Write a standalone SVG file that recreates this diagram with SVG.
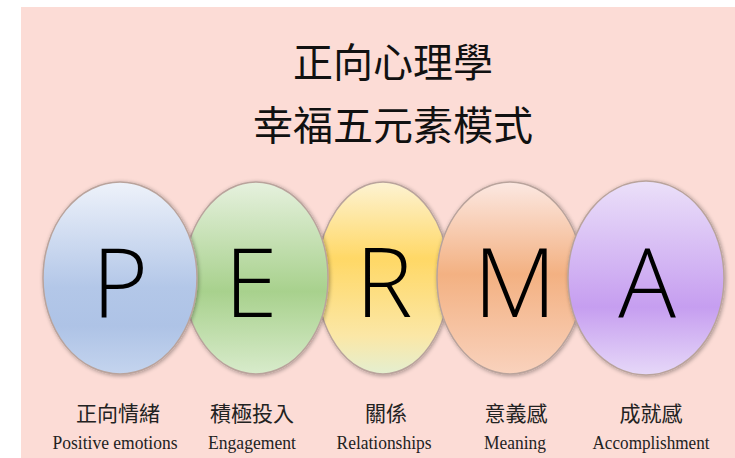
<svg xmlns="http://www.w3.org/2000/svg" width="735" height="458" viewBox="0 0 735 458">
<style>
.title{font-family:"Noto Sans CJK TC","Noto Sans CJK SC",sans-serif;font-size:40px;fill:#111;text-anchor:middle}
.letter{font-family:"Open Sans","Liberation Sans",sans-serif;font-size:96px;font-weight:300;fill:#000;text-anchor:middle}
.zh{font-family:"Noto Sans CJK TC","Noto Sans CJK SC",sans-serif;font-size:21px;fill:#222;text-anchor:middle}
.en{font-family:"Liberation Serif",serif;font-size:18px;fill:#222;text-anchor:middle}
.ell{stroke:#b9a39c;stroke-width:1.5;filter:url(#sh)}
</style>
<defs>
<filter id="sh" x="-10%" y="-10%" width="120%" height="120%">
<feGaussianBlur in="SourceAlpha" stdDeviation="2"/>
<feOffset dx="1" dy="1"/>
<feComponentTransfer><feFuncA type="linear" slope="0.35"/></feComponentTransfer>
<feMerge><feMergeNode/><feMergeNode in="SourceGraphic"/></feMerge>
</filter>
<linearGradient id="gP" x1="0" y1="0" x2="0" y2="1">
<stop offset="0" stop-color="#eef2fa"/><stop offset="0.55" stop-color="#b3c7e8"/><stop offset="0.75" stop-color="#aec3e6"/><stop offset="1" stop-color="#c4d4ee"/>
</linearGradient>
<linearGradient id="gE" x1="0" y1="0" x2="0" y2="1">
<stop offset="0" stop-color="#e6f1de"/><stop offset="0.57" stop-color="#a8d18d"/><stop offset="1" stop-color="#d8ebcb"/>
</linearGradient>
<linearGradient id="gR" x1="0" y1="0" x2="0" y2="1">
<stop offset="0" stop-color="#fdf3d3"/><stop offset="0.4" stop-color="#ffd866"/><stop offset="0.8" stop-color="#fbe7a6"/><stop offset="1" stop-color="#e4efd0"/>
</linearGradient>
<linearGradient id="gM" x1="0" y1="0" x2="0" y2="1">
<stop offset="0" stop-color="#fce8e2"/><stop offset="0.48" stop-color="#f3b182"/><stop offset="1" stop-color="#f9d2bd"/>
</linearGradient>
<linearGradient id="gA" x1="0" y1="0" x2="0" y2="1">
<stop offset="0" stop-color="#ebe0f9"/><stop offset="0.65" stop-color="#c69ef0"/><stop offset="1" stop-color="#e6d8f8"/>
</linearGradient>
</defs>
<rect x="0" y="0" width="735" height="458" fill="#ffffff"/>
<rect x="21" y="7" width="714" height="451" fill="#fcdcd6"/>
<g id="title">
<text class="title" x="393" y="77">正向心理學</text>
<text class="title" x="393" y="140">幸福五元素模式</text>
</g>
<g id="node-R">
<ellipse class="ell" cx="383" cy="278" rx="66" ry="96" fill="url(#gR)"/>
<text class="letter" x="384" y="317">R</text>
</g>
<g id="node-E">
<ellipse class="ell" cx="256" cy="278" rx="72" ry="96" fill="url(#gE)"/>
<text class="letter" x="251" y="317">E</text>
</g>
<g id="node-P">
<ellipse class="ell" cx="120" cy="278" rx="77" ry="96" fill="url(#gP)"/>
<text class="letter" x="120" y="317">P</text>
</g>
<g id="node-M">
<ellipse class="ell" cx="510" cy="278" rx="73" ry="96" fill="url(#gM)"/>
<text class="letter" x="515" y="317">M</text>
</g>
<g id="node-A">
<ellipse class="ell" cx="646" cy="278" rx="78" ry="97" fill="url(#gA)"/>
<text class="letter" x="647" y="317">A</text>
</g>
<g id="labels">
<text class="zh" x="118" y="421">正向情緒</text>
<text class="en" x="115" y="449" textLength="125" lengthAdjust="spacingAndGlyphs">Positive emotions</text>
<text class="zh" x="252" y="421">積極投入</text>
<text class="en" x="252" y="449" textLength="88" lengthAdjust="spacingAndGlyphs">Engagement</text>
<text class="zh" x="386" y="421">關係</text>
<text class="en" x="384" y="449" textLength="95" lengthAdjust="spacingAndGlyphs">Relationships</text>
<text class="zh" x="516" y="421">意義感</text>
<text class="en" x="515" y="449" textLength="62" lengthAdjust="spacingAndGlyphs">Meaning</text>
<text class="zh" x="651" y="421">成就感</text>
<text class="en" x="651" y="449" textLength="117" lengthAdjust="spacingAndGlyphs">Accomplishment</text>
</g>
<g id="connectors"/>
</svg>
